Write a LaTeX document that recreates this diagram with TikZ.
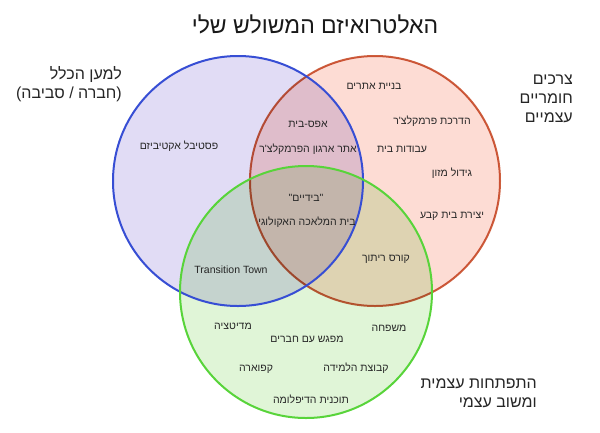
\documentclass[tikz,border=0pt]{standalone}
\usepackage{fontspec}
\newfontfamily\heb[Script=Hebrew]{Liberation Sans}
\newfontfamily\lat{Liberation Sans}
\TeXXeTstate=1
\definecolor{bstroke}{RGB}{55,78,212}
\definecolor{bfill}{RGB}{225,220,245}
\definecolor{rstroke}{RGB}{205,95,62}
\definecolor{rfill}{RGB}{253,220,212}
\definecolor{gstroke}{RGB}{88,212,58}
\definecolor{gfill}{RGB}{224,245,215}
\tikzset{
  lbl/.style={font=\heb\fontsize{10.5}{12}\selectfont, inner sep=0pt, text=black!85},
  side/.style={font=\heb\fontsize{16}{19}\selectfont, inner sep=0pt, align=right, anchor=east, text=black!85},
  ring/.style={line width=2pt}
}
\begin{document}
\begin{tikzpicture}[x=1pt,y=-1pt]
\useasboundingbox (0,0) rectangle (600,432);
\fill[white] (0,0) rectangle (600,432);
\coordinate (cb) at (238,181);
\coordinate (cr) at (375,181);
\coordinate (cg) at (306,292);
\begin{scope}[blend group=multiply]
  \fill[bfill] (cb) circle[radius=125pt];
  \fill[rfill] (cr) circle[radius=125pt];
  \draw[ring, rstroke] (cr) circle[radius=125pt];
  \fill[gfill] (cg) circle[radius=126pt];
\end{scope}
\draw[ring, bstroke] (cb) circle[radius=125pt];
\draw[ring, gstroke] (cg) circle[radius=126pt];
\node[font=\heb\fontsize{23}{26}\selectfont, inner sep=0pt, text=black!90] (title) at (315,24) {\beginR האלטרואיזם המשולש שלי\endR};
\node[side] (lblB) at (122,84) {\beginR למען הכלל\endR\\\beginR (חברה / סביבה)\endR};
\node[side] (lblR) at (573,99) {\beginR צרכים\endR\\\beginR חומריים\endR\\\beginR עצמיים\endR};
\node[side] (lblG) at (537,393) {\beginR התפתחות עצמית\endR\\\beginR ומשוב עצמי\endR};
\node[lbl] (a1) at (374,86) {\beginR בניית אתרים\endR};
\node[lbl] (a2) at (432,121) {\beginR הדרכת פרמקלצ'ר\endR};
\node[lbl] (a3) at (402,149) {\beginR עבודות בית\endR};
\node[lbl] (a4) at (452,173) {\beginR גידול מזון\endR};
\node[lbl] (a5) at (452,216) {\beginR יצירת בית קבע\endR};
\node[lbl] (b1) at (308,124) {\beginR אפס-בית\endR};
\node[lbl] (b2) at (308,149) {\beginR אתר ארגון הפרמקלצ'ר\endR};
\node[lbl] (b3) at (179,146) {\beginR פסטיבל אקטיביזם\endR};
\node[lbl] (c1) at (306,198) {\beginR "בידיים"\endR};
\node[lbl] (c2) at (307,222) {\beginR בית המלאכה האקולוגי\endR};
\node[lbl, font=\lat\fontsize{10.5}{12}\selectfont] (d1) at (231,270) {Transition Town};
\node[lbl] (d2) at (386,259) {\beginR קורס ריתוך\endR};
\node[lbl] (e1) at (233,326) {\beginR מדיטציה\endR};
\node[lbl] (e2) at (389,328) {\beginR משפחה\endR};
\node[lbl] (e3) at (307,339) {\beginR מפגש עם חברים\endR};
\node[lbl] (e4) at (256,369) {\beginR קפוארה\endR};
\node[lbl] (e5) at (356,368) {\beginR קבוצת הלמידה\endR};
\node[lbl] (e6) at (311,399) {\beginR תוכנית הדיפלומה\endR};
\end{tikzpicture}
\end{document}
